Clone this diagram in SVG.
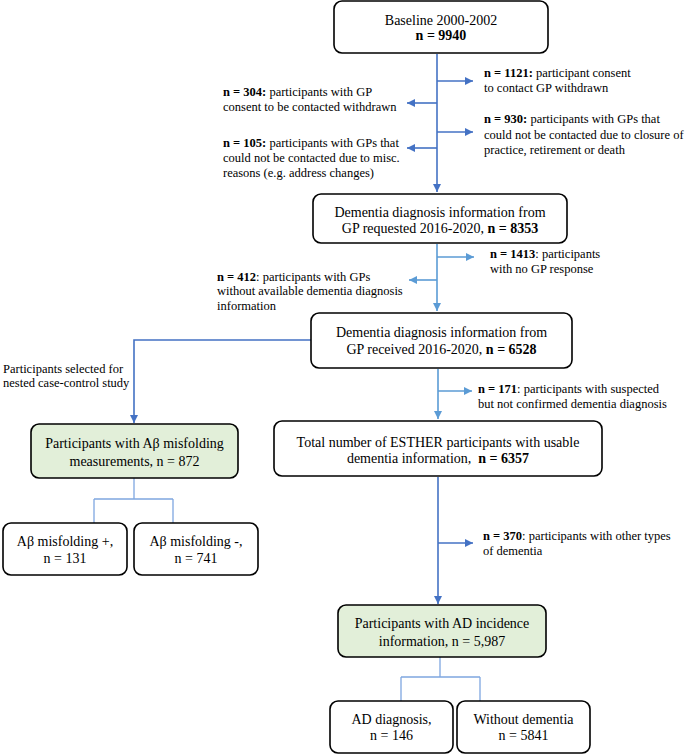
<svg xmlns="http://www.w3.org/2000/svg" width="685" height="754" viewBox="0 0 685 754">
<defs>
<marker id="ad" markerUnits="userSpaceOnUse" markerWidth="9" markerHeight="9" refX="8" refY="4" orient="auto"><path d="M0,0 L8,4 L0,8 z" fill="#4472C4"/></marker>
<marker id="al" markerUnits="userSpaceOnUse" markerWidth="9" markerHeight="9" refX="8" refY="4" orient="auto"><path d="M0,0 L8,4 L0,8 z" fill="#5B9BD5"/></marker>
<style>
.box{fill:#fff;stroke:#000;stroke-width:1.6}
.g{fill:#E2EFD9}
.bt{font-size:14px;fill:#000;text-anchor:middle}
.st{font-size:12.5px;fill:#000}
.b{font-weight:bold}
.dk{fill:none;stroke:#4472C4;stroke-width:1.6}
.lt{fill:none;stroke:#5B9BD5;stroke-width:1.6}
.th{fill:none;stroke:#7FA7E0;stroke-width:1.3}
</style>
</defs>
<g font-family="Liberation Serif, Times New Roman, DejaVu Serif, serif">
<g id="connectors">
<path class="dk" d="M437,54 V192" marker-end="url(#ad)"/>
<path class="dk" d="M437,81 H473" marker-end="url(#ad)"/>
<path class="dk" d="M437,103 H407" marker-end="url(#ad)"/>
<path class="dk" d="M437,132 H473" marker-end="url(#ad)"/>
<path class="dk" d="M437,148 H407" marker-end="url(#ad)"/>
<path class="lt" d="M437,244 V311" marker-end="url(#al)"/>
<path class="lt" d="M437,257 H474" marker-end="url(#al)"/>
<path class="lt" d="M437,280 H409" marker-end="url(#al)"/>
<path class="dk" d="M311,340 H134 V423" marker-end="url(#ad)"/>
<path class="lt" d="M438,369 V419" marker-end="url(#al)"/>
<path class="lt" d="M438,391 H472" marker-end="url(#al)"/>
<path class="dk" d="M438,477 V604" marker-end="url(#ad)"/>
<path class="dk" d="M438,543 H473" marker-end="url(#ad)"/>
<path class="th" d="M134,478 V499 M94,499 H173 M94,499 V523 M173,499 V523"/>
<path class="th" d="M440,657 V677 M401,677 H480 M401,677 V701 M480,677 V701"/>
</g>
<g id="baseline">
<rect class="box" x="334" y="1" width="214" height="52" rx="8"/>
<text class="bt" x="441" y="24.5">Baseline 2000-2002</text>
<text class="bt b" x="441" y="40">n = 9940</text>
</g>
<g id="requested">
<rect class="box" x="313" y="194" width="254" height="49" rx="8"/>
<text class="bt" x="440" y="216.5">Dementia diagnosis information from</text>
<text class="bt" x="440" y="232.5">GP requested 2016-2020, <tspan class="b">n = 8353</tspan></text>
</g>
<g id="received">
<rect class="box" x="311" y="313" width="261" height="55" rx="8"/>
<text class="bt" x="441.5" y="336.5">Dementia diagnosis information from</text>
<text class="bt" x="441.5" y="353.5">GP received 2016-2020, <tspan class="b">n = 6528</tspan></text>
</g>
<g id="total">
<rect class="box" x="274" y="421" width="328" height="55" rx="8"/>
<text class="bt" x="438" y="446.5">Total number of ESTHER participants with usable</text>
<text class="bt" x="438" y="462.5" xml:space="preserve">dementia information,  <tspan class="b">n = 6357</tspan></text>
</g>
<g id="abeta">
<rect class="box g" x="31" y="424" width="207" height="54" rx="8"/>
<text class="bt" x="134.5" y="447.5">Participants with Aβ misfolding</text>
<text class="bt" x="134.5" y="465.5">measurements, n = 872</text>
</g>
<g id="abeta-pos">
<rect class="box" x="3" y="523" width="124" height="52" rx="8"/>
<text class="bt" x="65" y="545.5">Aβ misfolding +,</text>
<text class="bt" x="65" y="562.5">n = 131</text>
</g>
<g id="abeta-neg">
<rect class="box" x="134" y="523" width="124" height="52" rx="8"/>
<text class="bt" x="196" y="545.5">Aβ misfolding -,</text>
<text class="bt" x="196" y="562.5">n = 741</text>
</g>
<g id="ad-incidence">
<rect class="box g" x="338" y="605" width="208" height="52" rx="8"/>
<text class="bt" x="442" y="627.5">Participants with AD incidence</text>
<text class="bt" x="442" y="646">information, n = 5,987</text>
</g>
<g id="ad-diagnosis">
<rect class="box" x="330" y="701" width="123" height="52" rx="8"/>
<text class="bt" x="391.5" y="723.5">AD diagnosis,</text>
<text class="bt" x="391.5" y="740">n = 146</text>
</g>
<g id="without-dementia">
<rect class="box" x="457" y="701" width="133" height="52" rx="8"/>
<text class="bt" x="523.5" y="723.5">Without dementia</text>
<text class="bt" x="523.5" y="740">n = 5841</text>
</g>
<g id="labels">
<text class="st" x="484" y="77"><tspan class="b">n = 1121:</tspan> participant consent</text>
<text class="st" x="484" y="92">to contact GP withdrawn</text>
<text class="st" x="223" y="96"><tspan class="b">n = 304:</tspan> participants with GP</text>
<text class="st" x="223" y="111">consent to be contacted withdrawn</text>
<text class="st" x="484" y="123"><tspan class="b">n = 930:</tspan> participants with GPs that</text>
<text class="st" x="484" y="139">could not be contacted due to closure of</text>
<text class="st" x="484" y="154">practice, retirement or death</text>
<text class="st" x="223" y="147"><tspan class="b">n = 105:</tspan> participants with GPs that</text>
<text class="st" x="223" y="162">could not be contacted due to misc.</text>
<text class="st" x="223" y="177">reasons (e.g. address changes)</text>
<text class="st" x="490" y="258"><tspan class="b">n = 1413</tspan>: participants</text>
<text class="st" x="490" y="273">with no GP response</text>
<text class="st" x="217" y="281"><tspan class="b">n = 412</tspan>: participants with GPs</text>
<text class="st" x="217" y="295">without available dementia diagnosis</text>
<text class="st" x="217" y="310">information</text>
<text class="st" x="3" y="373">Participants selected for</text>
<text class="st" x="3" y="387">nested case-control study</text>
<text class="st" x="478" y="393"><tspan class="b">n = 171</tspan>: participants with suspected</text>
<text class="st" x="478" y="408">but not confirmed dementia diagnosis</text>
<text class="st" x="483" y="540"><tspan class="b">n = 370</tspan>: participants with other types</text>
<text class="st" x="483" y="555">of dementia</text>
</g>
</g>
</svg>
